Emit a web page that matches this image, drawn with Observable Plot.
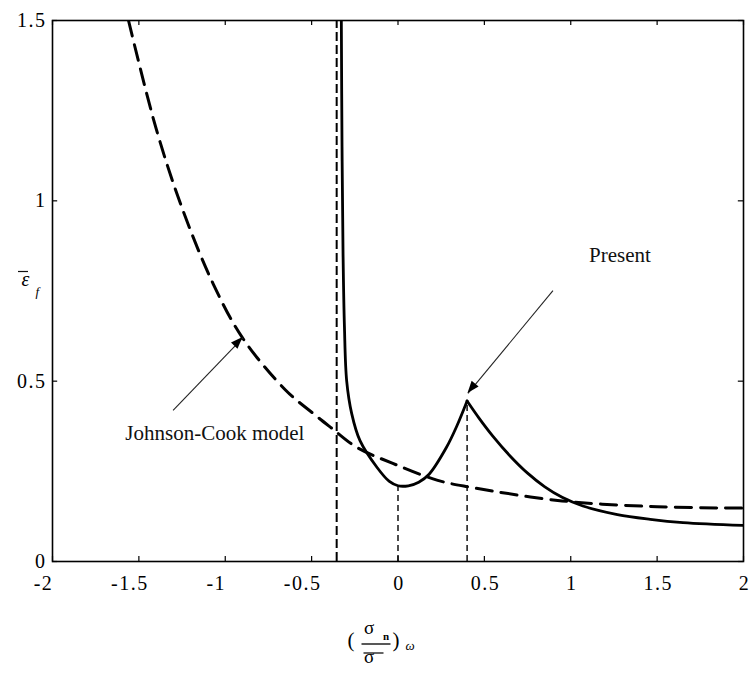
<!DOCTYPE html>
<html><head><meta charset="utf-8">
<script src="https://cdn.jsdelivr.net/npm/d3@7"></script>
<script src="https://cdn.jsdelivr.net/npm/@observablehq/plot@0.6"></script>
<style>
body{margin:0;background:#fff} svg{display:block}
svg text{font-family:'Liberation Serif','Times New Roman',serif !important;}
g[aria-label$="tick label"] text{letter-spacing:1.5px;}
</style>
</head><body><div id="chart"></div>
<script>
// ---- data ----
const xTicks = [-2, -1.5, -1, -0.5, 0, 0.5, 1, 1.5, 2];
const yTicks = [0, 0.5, 1, 1.5];

// Johnson-Cook model (dashed)
const jcX = [-1.56, -1.4, -1.25, -1.07, -0.9, -0.65, -0.49, -0.39, -0.24, -0.03, 0.23, 0.42, 0.95, 1.5, 2.0];
const jcY = [1.5, 1.2, 0.98, 0.77, 0.62, 0.475, 0.41, 0.372, 0.317, 0.272, 0.225, 0.206, 0.168, 0.152, 0.148];

// Present model (solid), left branch up to the cusp and right branch after it
const presLeftX = [-0.328, -0.324, -0.318, -0.31, -0.297, -0.268, -0.22, -0.12, -0.05, 0, 0.06, 0.12, 0.18, 0.28, 0.34, 0.40];
const presLeftY = [1.5, 1.15, 0.85, 0.65, 0.5, 0.41, 0.335, 0.26, 0.222, 0.21, 0.21, 0.22, 0.242, 0.316, 0.375, 0.445];
const presRightX = [0.40, 0.47, 0.55, 0.65, 0.75, 0.85, 0.95, 1.07, 1.27, 1.46, 1.65, 2.0];
const presRightY = [0.445, 0.397, 0.347, 0.292, 0.245, 0.207, 0.178, 0.154, 0.130, 0.117, 0.108, 0.100];

// vertical guide lines
const guideX = [-0.355, 0, 0.4];
const guideTop = [1.5, 0.21, 0.445];
const guideKind = ["asymptote", "min", "peak"];

// annotations
const noteText = ["Present", "Johnson-Cook model"];
const noteX = [1.285, -1.06];
const noteY = [0.848, 0.355];
const arrowFromX = [0.897, -1.302];
const arrowFromY = [0.751, 0.419];
const arrowToX = [0.405, -0.897];
const arrowToY = [0.466, 0.621];

// ---- tables ----
const jc = jcX.map((x, i) => ({x, y: jcY[i]}));
const pres = [
  ...presLeftX.map((x, i) => ({x, y: presLeftY[i], b: "L"})),
  ...presRightX.map((x, i) => ({x, y: presRightY[i], b: "R"}))
];
const guides = guideX.map((x, i) => ({x, top: guideTop[i], kind: guideKind[i]}));
const notes = noteText.map((t, i) => ({t, x: noteX[i], y: noteY[i]}));
const arrows = arrowFromX.map((x, i) => ({x1: x, y1: arrowFromY[i], x2: arrowToX[i], y2: arrowToY[i]}));

const SERIF = "'Liberation Serif', 'Times New Roman', serif";
const NS = "http://www.w3.org/2000/svg";

function arrowHeads(index, scales) {
  const {x, y} = scales;
  const g = document.createElementNS(NS, "g");
  for (const a of arrows) {
    const x1 = x(a.x1), y1 = y(a.y1), x2 = x(a.x2), y2 = y(a.y2);
    const ang = Math.atan2(y2 - y1, x2 - x1);
    const L = 12, W = 4.5;
    const bx = x2 - L * Math.cos(ang), by = y2 - L * Math.sin(ang);
    const p = document.createElementNS(NS, "polygon");
    p.setAttribute("points", `${x2},${y2} ${bx + W * Math.sin(ang)},${by - W * Math.cos(ang)} ${bx - W * Math.sin(ang)},${by + W * Math.cos(ang)}`);
    p.setAttribute("fill", "black");
    g.appendChild(p);
  }
  return g;
}

function hline(g, x1, x2, y, w) {
  const l = document.createElementNS(NS, "line");
  l.setAttribute("x1", x1); l.setAttribute("x2", x2);
  l.setAttribute("y1", y); l.setAttribute("y2", y);
  l.setAttribute("stroke", "#111"); l.setAttribute("stroke-width", w);
  g.appendChild(l);
}

// bars of the axis-label notation (fraction bar, overbars)
function labelBars(index, scales, values, dims) {
  const g = document.createElementNS(NS, "g");
  const cx = (dims.marginLeft + dims.width - dims.marginRight) / 2;
  const by = dims.height - dims.marginBottom;
  hline(g, cx - 36, cx - 7, by + 83, 1.4);      // fraction bar
  hline(g, cx - 34, cx - 14, by + 92, 1.3);     // bar over σ
  const cy = (dims.marginTop + dims.height - dims.marginBottom) / 2;
  hline(g, dims.marginLeft - 34, dims.marginLeft - 24, cy - 19, 1.2); // bar over ε
  return g;
}

const tickLenY = 0.014, tickLenX = 0.03;

const chart = Plot.plot({
  width: 751,
  height: 673,
  marginLeft: 52,
  marginRight: 8,
  marginTop: 20,
  marginBottom: 112,
  x: {domain: [-2, 2], label: null},
  y: {domain: [0, 1.5], label: null},
  style: {background: "white", color: "black", fontFamily: SERIF, fontSize: "20px"},
  marks: [
    // tick labels
    Plot.axisX(xTicks.filter(d => d < 0), {anchor: "bottom", tickSize: 0, tickPadding: 14, dx: -9, fontSize: 20, tickFormat: d => String(d), label: null}),
    Plot.axisX(xTicks.filter(d => d >= 0), {anchor: "bottom", tickSize: 0, tickPadding: 14, dx: 1, fontSize: 20, tickFormat: d => String(d), label: null}),
    Plot.axisY(yTicks, {anchor: "left", tickSize: 0, tickPadding: 6, fontSize: 20, tickFormat: d => String(d), label: null}),
    // inward tick marks on all four sides
    Plot.ruleX(xTicks, {x: d => d, y1: 0, y2: tickLenY, stroke: "black", strokeWidth: 1.2}),
    Plot.ruleX(xTicks, {x: d => d, y1: 1.5, y2: 1.5 - tickLenY, stroke: "black", strokeWidth: 1.2}),
    Plot.ruleY(yTicks, {y: d => d, x1: -2, x2: -2 + tickLenX, stroke: "black", strokeWidth: 1.2}),
    Plot.ruleY(yTicks, {y: d => d, x1: 2, x2: 2 - tickLenX, stroke: "black", strokeWidth: 1.2}),
    // guide lines
    Plot.ruleX(guides.filter(d => d.kind === "asymptote"), {x: "x", y1: 0, y2: "top", stroke: "black", strokeWidth: 2, strokeDasharray: "9,4"}),
    Plot.ruleX(guides.filter(d => d.kind !== "asymptote"), {x: "x", y1: 0, y2: "top", stroke: "black", strokeWidth: 1.4, strokeDasharray: "6,4"}),
    // curves
    Plot.line(jc, {x: "x", y: "y", curve: "catmull-rom", stroke: "black", strokeWidth: 3, strokeDasharray: "16,9", clip: true}),
    Plot.line(pres, {x: "x", y: "y", z: "b", curve: "catmull-rom", stroke: "black", strokeWidth: 2.8, clip: true}),
    // frame
    Plot.frame({stroke: "black", strokeWidth: 1.6}),
    // annotations
    Plot.link(arrows, {x1: "x1", y1: "y1", x2: "x2", y2: "y2", stroke: "#222", strokeWidth: 1.1}),
    arrowHeads,
    Plot.text(notes, {x: "x", y: "y", text: "t", fontSize: 21, fontFamily: SERIF, fill: "#111"}),
    // y label: ε̄ f
    Plot.text(["ε"], {frameAnchor: "left", dx: -31, dy: -11, fontSize: 20, fontStyle: "italic", fontFamily: SERIF}),
    Plot.text(["f"], {frameAnchor: "left", dx: -17, dy: 1, fontSize: 13, fontStyle: "italic", fontFamily: SERIF}),
    // x label: (σn / σ̄)ω
    Plot.text(["("], {frameAnchor: "bottom", dx: -47, dy: 85, fontSize: 21, fontFamily: SERIF}),
    Plot.text(["σ"], {frameAnchor: "bottom", dx: -29, dy: 72, fontSize: 19, fontFamily: SERIF}),
    Plot.text(["n"], {frameAnchor: "bottom", dx: -12, dy: 78, fontSize: 11, fontFamily: SERIF, fontWeight: "bold"}),
    Plot.text(["σ"], {frameAnchor: "bottom", dx: -29, dy: 101, fontSize: 19, fontFamily: SERIF}),
    Plot.text([")"], {frameAnchor: "bottom", dx: -2, dy: 85, fontSize: 21, fontFamily: SERIF}),
    Plot.text(["ω"], {frameAnchor: "bottom", dx: 12, dy: 88, fontSize: 13, fontStyle: "italic", fontFamily: SERIF}),
    labelBars
  ]
});
document.getElementById("chart").appendChild(chart);
</script>
</body></html>
